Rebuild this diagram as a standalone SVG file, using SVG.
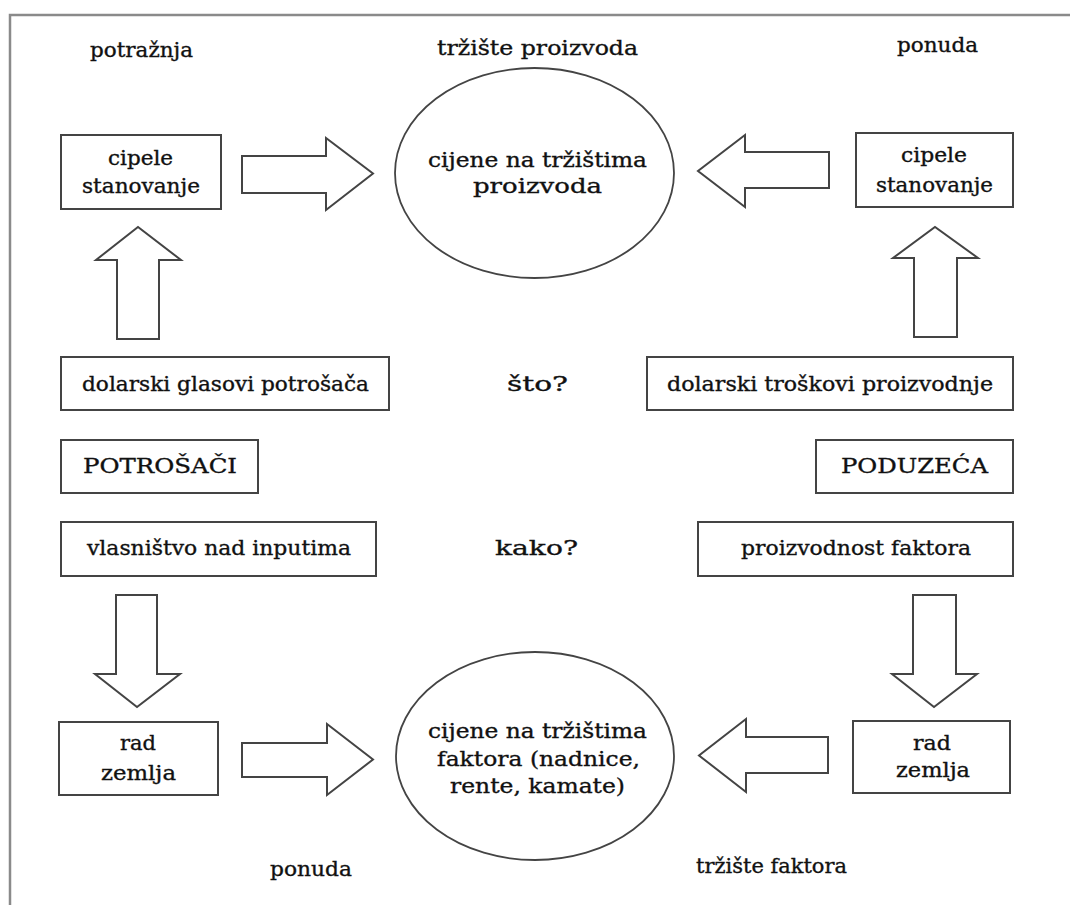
<svg xmlns="http://www.w3.org/2000/svg" width="1070" height="905" viewBox="0 0 1070 905">
<style>
.frame{fill:none;stroke:#8a8a8a;stroke-width:2.5}
.box{fill:#fff;stroke:#444;stroke-width:2}
.ell{fill:#fff;stroke:#444;stroke-width:1.8}
.arr{fill:#fff;stroke:#444;stroke-width:2;stroke-linejoin:miter}
text{font-family:"DejaVu Serif","Liberation Serif",serif;font-size:20px;fill:#111;stroke:#111;stroke-width:0.35;text-anchor:middle}
</style>
<rect width="1070" height="905" fill="#fff"/>
<path class="frame" d="M10,905 L10,15 L1070,15"/>

<g id="labels">
<text x="141.5" y="57" textLength="103" lengthAdjust="spacingAndGlyphs">potražnja</text>
<text x="537.5" y="55" textLength="201" lengthAdjust="spacingAndGlyphs">tržište proizvoda</text>
<text x="937.5" y="52" textLength="81" lengthAdjust="spacingAndGlyphs">ponuda</text>
<text x="537.5" y="391" textLength="61" lengthAdjust="spacingAndGlyphs">što?</text>
<text x="536.5" y="555" textLength="83" lengthAdjust="spacingAndGlyphs">kako?</text>
<text x="311" y="876" textLength="82" lengthAdjust="spacingAndGlyphs">ponuda</text>
<text x="771.5" y="873" textLength="151" lengthAdjust="spacingAndGlyphs">tržište faktora</text>
</g>

<g id="connectors">
<polygon class="arr" points="242,156 326,156 326,138 373,173.5 326,210 326,193 242,193"/>
<polygon class="arr" points="829,152 745,152 745,135 698,171 745,207 745,188 829,188"/>
<polygon class="arr" points="117,339 117,260 96,260 138,227 181,260 159,260 159,339"/>
<polygon class="arr" points="914,337 914,258 893,258 935,227 978,258 957,258 957,337"/>
<polygon class="arr" points="116,595 157,595 157,674 180,674 137,707 95,674 116,674"/>
<polygon class="arr" points="913,595 956,595 956,674 977,674 934,707 892,674 913,674"/>
<polygon class="arr" points="242,743 327,743 327,724 373,759.5 327,795 327,777 242,777"/>
<polygon class="arr" points="828,737 746,737 746,719 699,755.5 746,792 746,773 828,773"/>
</g>

<g id="market-products">
<ellipse class="ell" cx="534.5" cy="173" rx="139.5" ry="105"/>
<text x="537.5" y="167" textLength="219" lengthAdjust="spacingAndGlyphs">cijene na tržištima</text>
<text x="537.5" y="193" textLength="129" lengthAdjust="spacingAndGlyphs">proizvoda</text>
</g>

<g id="market-factors">
<ellipse class="ell" cx="535" cy="756" rx="139" ry="104"/>
<text x="537.5" y="738" textLength="219" lengthAdjust="spacingAndGlyphs">cijene na tržištima</text>
<text x="538.5" y="766" textLength="203" lengthAdjust="spacingAndGlyphs">faktora (nadnice,</text>
<text x="537.5" y="793" textLength="175" lengthAdjust="spacingAndGlyphs">rente, kamate)</text>
</g>

<g id="demand-goods">
<rect class="box" x="61" y="135" width="160" height="74"/>
<text x="140.5" y="165" textLength="65" lengthAdjust="spacingAndGlyphs">cipele</text>
<text x="141" y="193" textLength="118" lengthAdjust="spacingAndGlyphs">stanovanje</text>
</g>

<g id="supply-goods">
<rect class="box" x="856" y="133" width="157" height="74"/>
<text x="934" y="162" textLength="66" lengthAdjust="spacingAndGlyphs">cipele</text>
<text x="934.5" y="192" textLength="117" lengthAdjust="spacingAndGlyphs">stanovanje</text>
</g>

<g id="dollar-votes">
<rect class="box" x="61" y="357" width="328" height="53"/>
<text x="225.5" y="391" textLength="287" lengthAdjust="spacingAndGlyphs">dolarski glasovi potrošača</text>
</g>

<g id="dollar-costs">
<rect class="box" x="647" y="357" width="366" height="53"/>
<text x="830" y="391" textLength="326" lengthAdjust="spacingAndGlyphs">dolarski troškovi proizvodnje</text>
</g>

<g id="consumers">
<rect class="box" x="61" y="440" width="197" height="53"/>
<text x="160" y="473" textLength="154" lengthAdjust="spacingAndGlyphs">POTROŠAČI</text>
</g>

<g id="firms">
<rect class="box" x="816" y="440" width="197" height="53"/>
<text x="914.5" y="473" textLength="147" lengthAdjust="spacingAndGlyphs">PODUZEĆA</text>
</g>

<g id="ownership">
<rect class="box" x="61" y="522" width="315" height="54"/>
<text x="219" y="555" textLength="264" lengthAdjust="spacingAndGlyphs">vlasništvo nad inputima</text>
</g>

<g id="productivity">
<rect class="box" x="698" y="522" width="315" height="54"/>
<text x="856" y="555" textLength="230" lengthAdjust="spacingAndGlyphs">proizvodnost faktora</text>
</g>

<g id="supply-factors">
<rect class="box" x="59" y="722" width="159" height="73"/>
<text x="138" y="750" textLength="36" lengthAdjust="spacingAndGlyphs">rad</text>
<text x="138.5" y="780" textLength="75" lengthAdjust="spacingAndGlyphs">zemlja</text>
</g>

<g id="demand-factors">
<rect class="box" x="853" y="721" width="157" height="72"/>
<text x="932" y="750" textLength="38" lengthAdjust="spacingAndGlyphs">rad</text>
<text x="933" y="777" textLength="74" lengthAdjust="spacingAndGlyphs">zemlja</text>
</g>
</svg>
